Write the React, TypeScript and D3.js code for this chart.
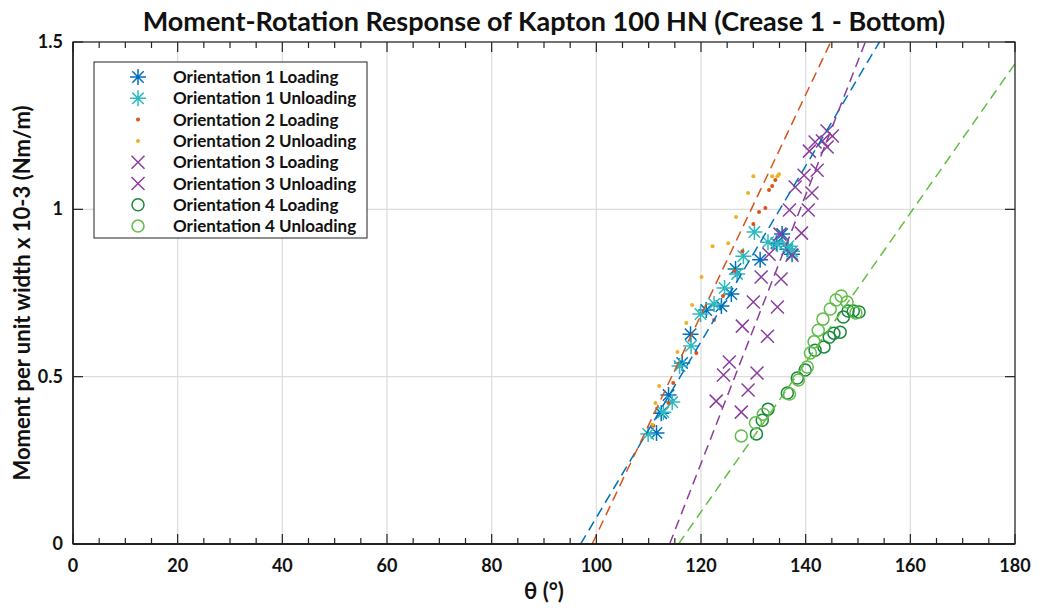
import React from "react";
import * as d3 from "d3";

// Orientation 1 (asterisks)
const o1LoadTheta = [111.5, 112.4, 113.8, 116.4, 118.0, 121.0, 123.9, 125.8, 126.6, 131.3, 134.4, 135.5, 136.5, 137.4];
const o1LoadM = [0.332, 0.391, 0.445, 0.541, 0.627, 0.699, 0.711, 0.747, 0.822, 0.849, 0.899, 0.926, 0.881, 0.866];
const o1UnloadTheta = [109.9, 112.8, 114.5, 115.9, 118.1, 119.9, 122.5, 124.5, 126.9, 128.1, 130.2, 132.8, 134.6, 136.7, 137.4];
const o1UnloadM = [0.329, 0.394, 0.424, 0.532, 0.592, 0.687, 0.717, 0.765, 0.807, 0.860, 0.932, 0.902, 0.896, 0.890, 0.875];

// Orientation 2 (dots)
const o2LoadTheta = [110.9, 113.8, 114.7, 119.1, 122.5, 124.2, 126.4, 127.9, 130.0, 131.1, 132.3, 133.0, 133.6, 134.2];
const o2LoadM = [0.353, 0.421, 0.481, 0.571, 0.669, 0.741, 0.816, 0.875, 0.956, 0.992, 1.004, 1.058, 1.070, 1.088];
const o2UnloadTheta = [110.7, 111.3, 112.0, 115.5, 117.2, 118.3, 120.1, 122.2, 125.2, 126.7, 129.0, 130.0, 133.6, 134.6, 134.9];
const o2UnloadM = [0.356, 0.421, 0.472, 0.574, 0.660, 0.714, 0.798, 0.890, 0.899, 0.977, 1.049, 1.099, 1.099, 1.099, 1.105];

// Orientation 3 (crosses)
const o3LoadTheta = [122.9, 124.3, 125.4, 127.9, 130.0, 131.5, 133.0, 135.1, 136.9, 138.0, 139.7, 140.7, 141.8, 144.1];
const o3LoadM = [0.427, 0.505, 0.544, 0.651, 0.723, 0.798, 0.866, 0.926, 0.998, 1.067, 1.102, 1.174, 1.201, 1.234];
const o3UnloadTheta = [127.7, 129.0, 130.7, 132.7, 134.6, 135.3, 137.4, 139.2, 140.5, 141.2, 142.2, 143.2, 144.1, 145.1];
const o3UnloadM = [0.394, 0.460, 0.511, 0.621, 0.708, 0.792, 0.863, 0.929, 0.998, 1.049, 1.117, 1.204, 1.186, 1.219];

// Orientation 4 (circles)
const o4LoadTheta = [130.6, 131.7, 132.8, 136.5, 138.4, 139.9, 141.8, 143.5, 144.5, 145.4, 146.6, 147.2, 148.1, 149.1, 150.2];
const o4LoadM = [0.329, 0.370, 0.403, 0.451, 0.496, 0.520, 0.579, 0.589, 0.618, 0.630, 0.633, 0.678, 0.696, 0.696, 0.693];
const o4UnloadTheta = [127.7, 130.4, 131.9, 136.9, 138.6, 140.3, 140.9, 141.6, 142.4, 143.3, 144.7, 145.8, 146.8, 147.9, 149.6];
const o4UnloadM = [0.323, 0.362, 0.388, 0.448, 0.490, 0.529, 0.571, 0.604, 0.639, 0.672, 0.702, 0.729, 0.741, 0.723, 0.690];

// Linear fits: angle where moment is zero, and slope (moment per degree)
const fitNames = ["Orientation 1", "Orientation 2", "Orientation 3", "Orientation 4"];
const fitTheta0 = [97.0, 99.2, 114.0, 115.7];
const fitSlope = [0.02627, 0.0329, 0.0401, 0.02232];

const xTicks = [0, 20, 40, 60, 80, 100, 120, 140, 160, 180];
const xMinorTicks = d3.range(0, 181, 5);
const yTicks = [0, 0.5, 1, 1.5];

const legendLabels = [
  "Orientation 1 Loading",
  "Orientation 1 Unloading",
  "Orientation 2 Loading",
  "Orientation 2 Unloading",
  "Orientation 3 Loading",
  "Orientation 3 Unloading",
  "Orientation 4 Loading",
  "Orientation 4 Unloading",
];

const C_BLUE = "#0072BD";
const C_CYAN = "#2DB9BE";
const C_ORANGE = "#D95319";
const C_YELLOW = "#EDB120";
const C_PURPLE = "#8A3E9C";
const C_DGREEN = "#16893A";
const C_LGREEN = "#62BD45";

type MarkerKind = "asterisk" | "dot" | "cross" | "circle";

const series: { theta: number[]; m: number[]; kind: MarkerKind; color: string }[] = [
  { theta: o1LoadTheta, m: o1LoadM, kind: "asterisk", color: C_BLUE },
  { theta: o1UnloadTheta, m: o1UnloadM, kind: "asterisk", color: C_CYAN },
  { theta: o2LoadTheta, m: o2LoadM, kind: "dot", color: C_ORANGE },
  { theta: o2UnloadTheta, m: o2UnloadM, kind: "dot", color: C_YELLOW },
  { theta: o3LoadTheta, m: o3LoadM, kind: "cross", color: C_PURPLE },
  { theta: o3UnloadTheta, m: o3UnloadM, kind: "cross", color: C_PURPLE },
  { theta: o4LoadTheta, m: o4LoadM, kind: "circle", color: C_DGREEN },
  { theta: o4UnloadTheta, m: o4UnloadM, kind: "circle", color: C_LGREEN },
];

const fitColors = [C_BLUE, C_ORANGE, C_PURPLE, C_LGREEN];

const W = 1039;
const H = 608;
const margin = { left: 73, right: 24, top: 42, bottom: 64 };
const FONT = "Lato, 'Open Sans', sans-serif";

function Marker({ kind, color, x, y }: { kind: MarkerKind; color: string; x: number; y: number }) {
  if (kind === "dot") return <circle cx={x} cy={y} r={2} fill={color} />;
  if (kind === "circle")
    return <circle cx={x} cy={y} r={6} fill="none" stroke={color} strokeWidth={1.5} />;
  if (kind === "cross") {
    const s = 6.5;
    return (
      <path
        d={`M${x - s},${y - s}L${x + s},${y + s}M${x - s},${y + s}L${x + s},${y - s}`}
        stroke={color}
        strokeWidth={1.5}
        fill="none"
      />
    );
  }
  const s = 8;
  const d = 5.7;
  return (
    <path
      d={`M${x - s},${y}L${x + s},${y}M${x},${y - s}L${x},${y + s}M${x - d},${y - d}L${x + d},${y + d}M${x - d},${y + d}L${x + d},${y - d}`}
      stroke={color}
      strokeWidth={1.5}
      fill="none"
    />
  );
}

export default function App() {
  const x = d3.scaleLinear().domain([0, 180]).range([margin.left, W - margin.right]);
  const y = d3.scaleLinear().domain([0, 1.5]).range([H - margin.bottom, margin.top]);
  const [x0, x1] = x.range();
  const [yb, yt] = y.range();

  const fitLines = fitTheta0.map((t0, i) => {
    const s = fitSlope[i];
    const tEnd = Math.min(180, t0 + 1.5 / s);
    const pts: [number, number][] = [
      [t0, 0],
      [tEnd, s * (tEnd - t0)],
    ];
    return { name: fitNames[i], color: fitColors[i], d: d3.line<[number, number]>().x((p) => x(p[0])).y((p) => y(p[1]))(pts) || "" };
  });

  return (
    <svg
      width={W}
      height={H}
      style={{ position: "absolute", left: 0, top: 0, background: "#fff" }}
      fontFamily={FONT}
    >
      <rect x={0} y={0} width={W} height={H} fill="#fff" />
      {/* grid */}
      {xTicks.map((t) => (
        <line key={"gx" + t} x1={x(t)} x2={x(t)} y1={yb} y2={yt} stroke="#dcdcdc" strokeWidth={1.2} />
      ))}
      {yTicks.map((t) => (
        <line key={"gy" + t} x1={x0} x2={x1} y1={y(t)} y2={y(t)} stroke="#dcdcdc" strokeWidth={1.2} />
      ))}

      {/* data */}
      <g clipPath="url(#plotClip)">
        {series.map((s, si) =>
          s.theta.map((t, i) => <Marker key={si + "-" + i} kind={s.kind} color={s.color} x={x(t)} y={y(s.m[i])} />)
        )}
        {fitLines.map((f) => (
          <path key={f.name} d={f.d} stroke={f.color} strokeWidth={1.5} strokeDasharray="10,6" fill="none" />
        ))}
      </g>
      <defs>
        <clipPath id="plotClip">
          <rect x={x0} y={yt} width={x1 - x0} height={yb - yt} />
        </clipPath>
      </defs>

      {/* axes box */}
      <rect x={x0} y={yt} width={x1 - x0} height={yb - yt} fill="none" stroke="#222" strokeWidth={1.2} />
      <line x1={x0} x2={x1} y1={yb} y2={yb} stroke="#222" strokeWidth={2} />
      <line x1={x0} x2={x0} y1={yb} y2={yt} stroke="#222" strokeWidth={1.5} />

      {/* x ticks */}
      {xMinorTicks.map((t) => {
        const major = t % 20 === 0;
        const len = major ? 10 : 6;
        return (
          <g key={"xt" + t}>
            <line x1={x(t)} x2={x(t)} y1={yb} y2={yb - len} stroke="#222" strokeWidth={1.2} />
            <line x1={x(t)} x2={x(t)} y1={yt} y2={yt + len} stroke="#222" strokeWidth={1.2} />
          </g>
        );
      })}
      {xTicks.map((t) => (
        <text key={"xl" + t} x={x(t)} y={yb + 28} textAnchor="middle" fontSize={18} fontWeight="bold" fill="#111">
          {t}
        </text>
      ))}

      {/* y ticks */}
      {yTicks.map((t) => (
        <g key={"yt" + t}>
          <line x1={x0} x2={x0 + 10} y1={y(t)} y2={y(t)} stroke="#222" strokeWidth={1.2} />
          <line x1={x1} x2={x1 - 10} y1={y(t)} y2={y(t)} stroke="#222" strokeWidth={1.2} />
          <text x={x0 - 10} y={y(t) + 6} textAnchor="end" fontSize={18} fontWeight="bold" fill="#111">
            {t}
          </text>
        </g>
      ))}

      {/* titles */}
      <text x={(x0 + x1) / 2} y={31} textAnchor="middle" fontSize={27} fontWeight="bold" fill="#111">
        Moment-Rotation Response of Kapton 100 HN (Crease 1 - Bottom)
      </text>
      <text x={(x0 + x1) / 2} y={599} textAnchor="middle" fontSize={22} fontWeight="bold" fill="#111">
        θ (°)
      </text>
      <text
        transform={`translate(30,${(yb + yt) / 2}) rotate(-90)`}
        textAnchor="middle"
        fontSize={22}
        fontWeight="bold"
        fill="#111"
      >
        Moment per unit width x 10-3 (Nm/m)
      </text>

      {/* legend */}
      <g>
        <rect x={94} y={62} width={273} height={176} fill="#fff" stroke="#222" strokeWidth={1} />
        {legendLabels.map((lab, i) => {
          const ly = 77 + i * 21.3;
          return (
            <g key={lab}>
              <Marker kind={series[i].kind} color={series[i].color} x={138} y={ly} />
              <text x={173} y={ly + 6} fontSize={17} fontWeight="bold" fill="#111">
                {lab}
              </text>
            </g>
          );
        })}
      </g>
    </svg>
  );
}
